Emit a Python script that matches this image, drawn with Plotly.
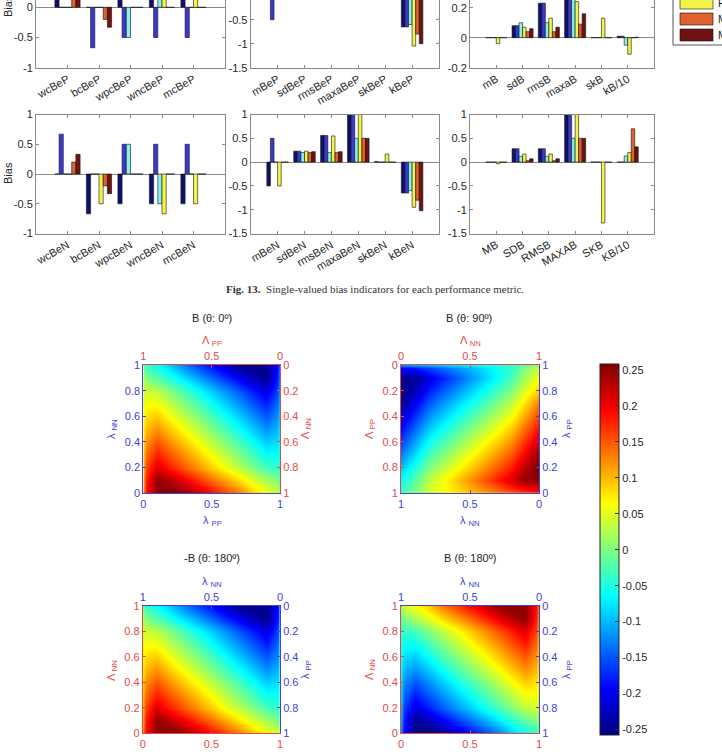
import plotly.graph_objects as go
import numpy as np

W, H = 722, 755

# ---------------- data ----------------
series_names = ["MLR", "ANN", "SVM", "FIS", "MARS", "M5"]
series_colors = ["#10106e", "#3a3acf", "#86f2f2", "#f4f448", "#e0602e", "#6e1212"]

cats_top1 = ["wcBeP", "bcBeP", "wpcBeP", "wncBeP", "mcBeP"]
cats_top2 = ["mBeP", "sdBeP", "rmsBeP", "maxaBeP", "skBeP", "kBeP"]
cats_top3 = ["mB", "sdB", "rmsB", "maxaB", "skB", "kB/10"]
cats_bot1 = ["wcBeN", "bcBeN", "wpcBeN", "wncBeN", "mcBeN"]
cats_bot2 = ["mBeN", "sdBeN", "rmsBeN", "maxaBeN", "skBeN", "kBeN"]
cats_bot3 = ["MB", "SDB", "RMSB", "MAXAB", "SKB", "KB/10"]

# rows = series (in series_names order), columns = categories
top1 = [
    [0.67, 0, 0.5, 0.5, 0.5],
    [0, -0.67, -0.5, -0.5, -0.5],
    [0, 0, -0.5, 0.5, 0],
    [0, 0, 0, 0.67, 0.5],
    [0.2, -0.2, 0, 0, 0],
    [0.33, -0.33, 0, 0, 0],
]
top2 = [
    [0.5, 0.23, 0.56, 1.0, 0.01, -0.65],
    [-0.5, 0.23, 0.56, 1.0, 0, -0.65],
    [0, 0.2, 0.2, 0.5, 0, -0.6],
    [0.5, 0.23, 0.55, 1.0, 0.17, -1.05],
    [0, 0.2, 0.2, 0.5, 0, -0.8],
    [0, 0.22, 0.22, 0.5, 0, -1.0],
]
top3 = [
    [0, 0.08, 0.23, 0.5, 0, 0.01],
    [0, 0.08, 0.23, 0.5, 0, 0.01],
    [0, 0.1, 0.1, 0.3, 0, -0.05],
    [-0.04, 0.07, 0.13, 0.24, 0.13, -0.11],
    [0, 0.04, 0.04, 0.09, 0, 0],
    [0, 0.06, 0.07, 0.16, 0, 0.003],
]
bot1 = [
    [0, -0.67, -0.5, -0.5, -0.5],
    [0.67, 0, 0.5, 0.5, 0.5],
    [0, 0, 0.5, -0.5, 0],
    [0, -0.5, 0, -0.67, -0.5],
    [0.2, -0.2, 0, 0, 0],
    [0.33, -0.33, 0, 0, 0],
]
bot2 = [
    [-0.5, 0.23, 0.56, 1.0, 0.01, -0.65],
    [0.5, 0.23, 0.56, 1.0, 0, -0.65],
    [0, 0.2, 0.2, 0.5, 0, -0.6],
    [-0.5, 0.23, 0.55, 1.0, 0.17, -0.95],
    [0, 0.2, 0.2, 0.5, 0, -0.8],
    [0, 0.22, 0.22, 0.5, 0, -1.02],
]
bot3 = [
    [0, 0.28, 0.28, 1.0, 0, 0],
    [0, 0.28, 0.28, 1.0, 0, 0],
    [0, 0.12, 0.12, 0.5, 0, 0.13],
    [-0.035, 0.17, 0.17, 1.0, -1.28, 0.2],
    [0, 0.03, 0.03, 0.5, 0, 0.7],
    [0, 0.07, 0.07, 0.5, 0, 0.32],
]

# heatmap: bias B read at (lambda_PP = column, lambda_NN = row)
lam_pp = [0, 0.02, 0.1, 0.2, 0.3, 0.4, 0.5, 0.6, 0.7, 0.8, 0.9, 0.98, 1.0]
lam_nn = [0, 0.1, 0.2, 0.3, 0.4, 0.5, 0.6, 0.7, 0.8, 0.9, 1.0]
bias_B = [
    [0.12, 0.19, 0.25, 0.26, 0.25, 0.22, 0.19, 0.16, 0.13, 0.09, 0.06, 0.04, 0.01],
    [0.11, 0.18, 0.25, 0.23, 0.20, 0.17, 0.14, 0.11, 0.08, 0.05, 0.02, 0.00, -0.02],
    [0.10, 0.16, 0.21, 0.18, 0.15, 0.12, 0.09, 0.06, 0.03, 0.00, -0.03, -0.04, -0.04],
    [0.09, 0.14, 0.18, 0.15, 0.12, 0.09, 0.06, 0.03, 0.00, -0.03, -0.06, -0.06, -0.05],
    [0.08, 0.12, 0.15, 0.12, 0.09, 0.06, 0.03, 0.00, -0.03, -0.06, -0.09, -0.08, -0.06],
    [0.07, 0.10, 0.12, 0.09, 0.06, 0.03, 0.00, -0.03, -0.06, -0.09, -0.12, -0.10, -0.07],
    [0.06, 0.08, 0.09, 0.06, 0.03, 0.00, -0.03, -0.06, -0.09, -0.12, -0.15, -0.12, -0.08],
    [0.05, 0.06, 0.06, 0.03, 0.00, -0.03, -0.06, -0.09, -0.12, -0.15, -0.18, -0.14, -0.09],
    [0.04, 0.04, 0.03, 0.00, -0.03, -0.06, -0.09, -0.12, -0.15, -0.18, -0.21, -0.16, -0.10],
    [0.02, 0.00, -0.02, -0.05, -0.08, -0.11, -0.14, -0.17, -0.20, -0.23, -0.25, -0.18, -0.11],
    [-0.01, -0.04, -0.06, -0.09, -0.13, -0.16, -0.19, -0.22, -0.25, -0.26, -0.25, -0.19, -0.12],
]
cbar_ticks = [-0.25, -0.2, -0.15, -0.1, -0.05, 0, 0.05, 0.1, 0.15, 0.2, 0.25]

# ---------------- helpers ----------------
def xd(a, b):
    return [a / W, b / W]

def yd(top, bottom):
    return [1 - bottom / H, 1 - top / H]

def px(x):
    return x / W

def py(y):
    return 1 - y / H

def lab(v):
    return "%g" % v

GRAY = "#8a8a8a"
TXT = "#262626"
BLUE = "#4242d6"
RED = "#e24a4a"
FONT = "Liberation Sans, Arial, sans-serif"

fig = go.Figure()
layout = dict(
    width=W, height=H,
    margin=dict(l=0, r=0, t=0, b=0, autoexpand=False),
    paper_bgcolor="white", plot_bgcolor="white",
    showlegend=False, barmode="group", bargap=0.2, bargroupgap=0,
    font=dict(family=FONT, size=11, color=TXT),
)

bar_panels = [
    (cats_top1, top1, (36, 225), (0, 67.7), [-1, 0.121], [-1, -0.5, 0, 0.5, 1], True),
    (cats_top2, top2, (250.7, 439), (0, 67.7), [-1.5, -0.09], [-1.5, -1, -0.5, 0, 0.5, 1], True),
    (cats_top3, top3, (470, 654), (0, 67.7), [-0.2, 0.251], [-0.2, 0, 0.2, 0.4, 0.6], True),
    (cats_bot1, bot1, (36, 225), (114.5, 233.5), [-1, 1], [-1, -0.5, 0, 0.5, 1], False),
    (cats_bot2, bot2, (250.7, 439), (114.5, 233.5), [-1.5, 1], [-1.5, -1, -0.5, 0, 0.5, 1], False),
    (cats_bot3, bot3, (470, 654), (114.5, 233.5), [-1.5, 1], [-1.5, -1, -0.5, 0, 0.5, 1], False),
]

for i, (cats, data, xdom, ydom, yr, yt, toprow) in enumerate(bar_panels, start=1):
    xs = list(range(1, len(cats) + 1))
    for s in range(6):
        fig.add_trace(go.Bar(
            x=xs, y=data[s], name=series_names[s],
            marker=dict(color=series_colors[s], line=dict(color="#111111", width=0.6)),
            xaxis="x%d" % i, yaxis="y%d" % i, showlegend=False,
        ))
    layout["xaxis%d" % i] = dict(
        domain=xd(*xdom), range=[0, len(cats) + 1], tickvals=xs, ticktext=cats,
        tickangle=-30, ticks="inside", ticklen=3, tickcolor=GRAY,
        showline=True, linecolor=GRAY, linewidth=1,
        mirror=False if toprow else "ticks",
        showgrid=False, zeroline=False, anchor="y%d" % i,
        tickfont=dict(size=11, color=TXT),
    )
    layout["yaxis%d" % i] = dict(
        domain=yd(*ydom), range=yr, tickvals=yt, ticktext=[lab(v) for v in yt],
        ticks="inside", ticklen=3, tickcolor=GRAY,
        showline=True, linecolor=GRAY, linewidth=1, mirror="ticks",
        showgrid=False, zeroline=True, zerolinecolor=GRAY, zerolinewidth=1,
        anchor="x%d" % i, tickfont=dict(size=11, color=TXT),
    )

# ---------------- heatmaps ----------------
M = np.array(bias_B)
t3 = [0, 0.5, 1]
t6 = [0, 0.2, 0.4, 0.6, 0.8, 1]

hm_panels = [
    (M, lam_pp, lam_nn, (143.3, 280), (365, 493.3), ([0, 1], BLUE), ([1, 0], RED), ("left", [0, 1], BLUE), ("right", [1, 0], RED)),
    (M.T, lam_nn, lam_pp, (401, 539), (365, 493.3), ([1, 0], BLUE), ([0, 1], RED), ("right", [0, 1], BLUE), ("left", [1, 0], RED)),
    (M, lam_pp, lam_nn, (142.7, 280), (606, 733.3), ([0, 1], RED), ([1, 0], BLUE), ("left", [0, 1], RED), ("right", [1, 0], BLUE)),
    (-M, lam_pp, lam_nn, (401, 539), (606, 733.3), ([0, 1], RED), ([1, 0], BLUE), ("left", [0, 1], RED), ("right", [1, 0], BLUE)),
]

def hax(color, rng, tv, **kw):
    d = dict(range=rng, tickvals=tv, ticktext=[lab(v) for v in tv], ticks="inside", ticklen=3,
             tickcolor=color, showline=True, linecolor=color, linewidth=1, mirror=False,
             showgrid=False, zeroline=False, tickfont=dict(size=11, color=color))
    d.update(kw)
    return d

for k, (z, hx, hy, xdom, ydom, mx, ox, my, oy) in enumerate(hm_panels):
    a = 7 + 2 * k
    b = a + 1
    fig.add_trace(go.Heatmap(
        x=hx, y=hy, z=z, coloraxis="coloraxis", zsmooth="best",
        xaxis="x%d" % a, yaxis="y%d" % a, hoverinfo="skip",
    ))
    fig.add_trace(go.Scatter(x=[], y=[], xaxis="x%d" % b, yaxis="y%d" % b,
                             mode="markers", showlegend=False, hoverinfo="skip"))
    layout["xaxis%d" % a] = hax(mx[1], mx[0], t3, domain=xd(*xdom), anchor="y%d" % a, side="bottom")
    layout["yaxis%d" % a] = hax(my[2], my[1], t6, domain=yd(*ydom), anchor="x%d" % a, side=my[0])
    layout["xaxis%d" % b] = hax(ox[1], ox[0], t3, overlaying="x%d" % a, anchor="y%d" % b, side="top")
    layout["yaxis%d" % b] = hax(oy[2], oy[1], t6, overlaying="y%d" % a, anchor="x%d" % b, side=oy[0])

jet = [
    [0.0, "rgb(0,0,128)"], [0.125, "rgb(0,0,255)"], [0.375, "rgb(0,255,255)"],
    [0.625, "rgb(255,255,0)"], [0.875, "rgb(255,0,0)"], [1.0, "rgb(128,0,0)"],
]
layout["coloraxis"] = dict(
    colorscale=jet, cmin=-0.258, cmax=0.258,
    colorbar=dict(
        x=px(600), xanchor="left", xpad=0, ypad=0,
        y=py(549.7), yanchor="middle", len=370.7, lenmode="pixels",
        thickness=19, thicknessmode="pixels",
        outlinewidth=1, outlinecolor="#222222",
        ticks="inside", ticklen=4, tickcolor="#333333",
        tickvals=cbar_ticks, ticktext=[lab(v) for v in cbar_ticks],
        tickfont=dict(size=11, color=TXT),
    ),
)

# ---------------- annotations ----------------
ann = []

def A(text, x, y, color=TXT, size=11, angle=0, family=FONT, **kw):
    d = dict(text=text, x=px(x), y=py(y), xref="paper", yref="paper", showarrow=False,
             xanchor="center", yanchor="middle", textangle=angle,
             font=dict(size=size, color=color, family=family))
    d.update(kw)
    ann.append(d)

A("Bias", 8, 6, angle=-90)
A("Bias", 8, 173, angle=-90)

A("<b>Fig. 13.</b>  Single-valued bias indicators for each performance metric.", 375, 289,
  color="#333333", size=11, family="Liberation Serif, Times New Roman, serif")

A("B (θ: 0º)", 211.7, 318)
A("Λ <sub>PP</sub>", 212, 341, color=RED)
A("λ <sub>PP</sub>", 212, 521, color=BLUE)
A("λ <sub>NN</sub>", 112, 429, color=BLUE, angle=-90)
A("Λ <sub>NN</sub>", 306, 429, color=RED, angle=-90)

A("B (θ: 90º)", 469, 318)
A("Λ <sub>NN</sub>", 470, 341, color=RED)
A("λ <sub>NN</sub>", 470, 521, color=BLUE)
A("Λ <sub>PP</sub>", 370, 429, color=RED, angle=-90)
A("λ <sub>PP</sub>", 567, 429, color=BLUE, angle=-90)

A("-B (θ: 180º)", 211.7, 558)
A("λ <sub>NN</sub>", 212, 582, color=BLUE)
A("Λ <sub>NN</sub>", 112, 670, color=RED, angle=-90)
A("λ <sub>PP</sub>", 306, 670, color=BLUE, angle=-90)

A("B (θ: 180º)", 470, 558)
A("λ <sub>NN</sub>", 470, 582, color=BLUE)
A("Λ <sub>NN</sub>", 370, 670, color=RED, angle=-90)
A("λ <sub>PP</sub>", 567, 670, color=BLUE, angle=-90)

# ---------------- legend (partially cropped, drawn manually) ----------------
shapes = []
shapes.append(dict(type="rect", xref="paper", yref="paper", x0=px(673), x1=px(760),
                   y0=py(45), y1=py(-60), line=dict(color="#555555", width=1), fillcolor="white",
                   layer="below"))
leg_rows = [(-51, 0), (-35, 1), (-19, 2), (-3, 3), (13, 4), (29, 5)]
for top, s in leg_rows:
    shapes.append(dict(type="rect", xref="paper", yref="paper", x0=px(680), x1=px(713),
                       y0=py(top + 12), y1=py(top), fillcolor=series_colors[s],
                       line=dict(color="#111111", width=0.6)))
    A(series_names[s], 716, top + 6, xanchor="left")

layout["annotations"] = ann
layout["shapes"] = shapes
fig.update_layout(**layout)
fig.write_html("out.html")
